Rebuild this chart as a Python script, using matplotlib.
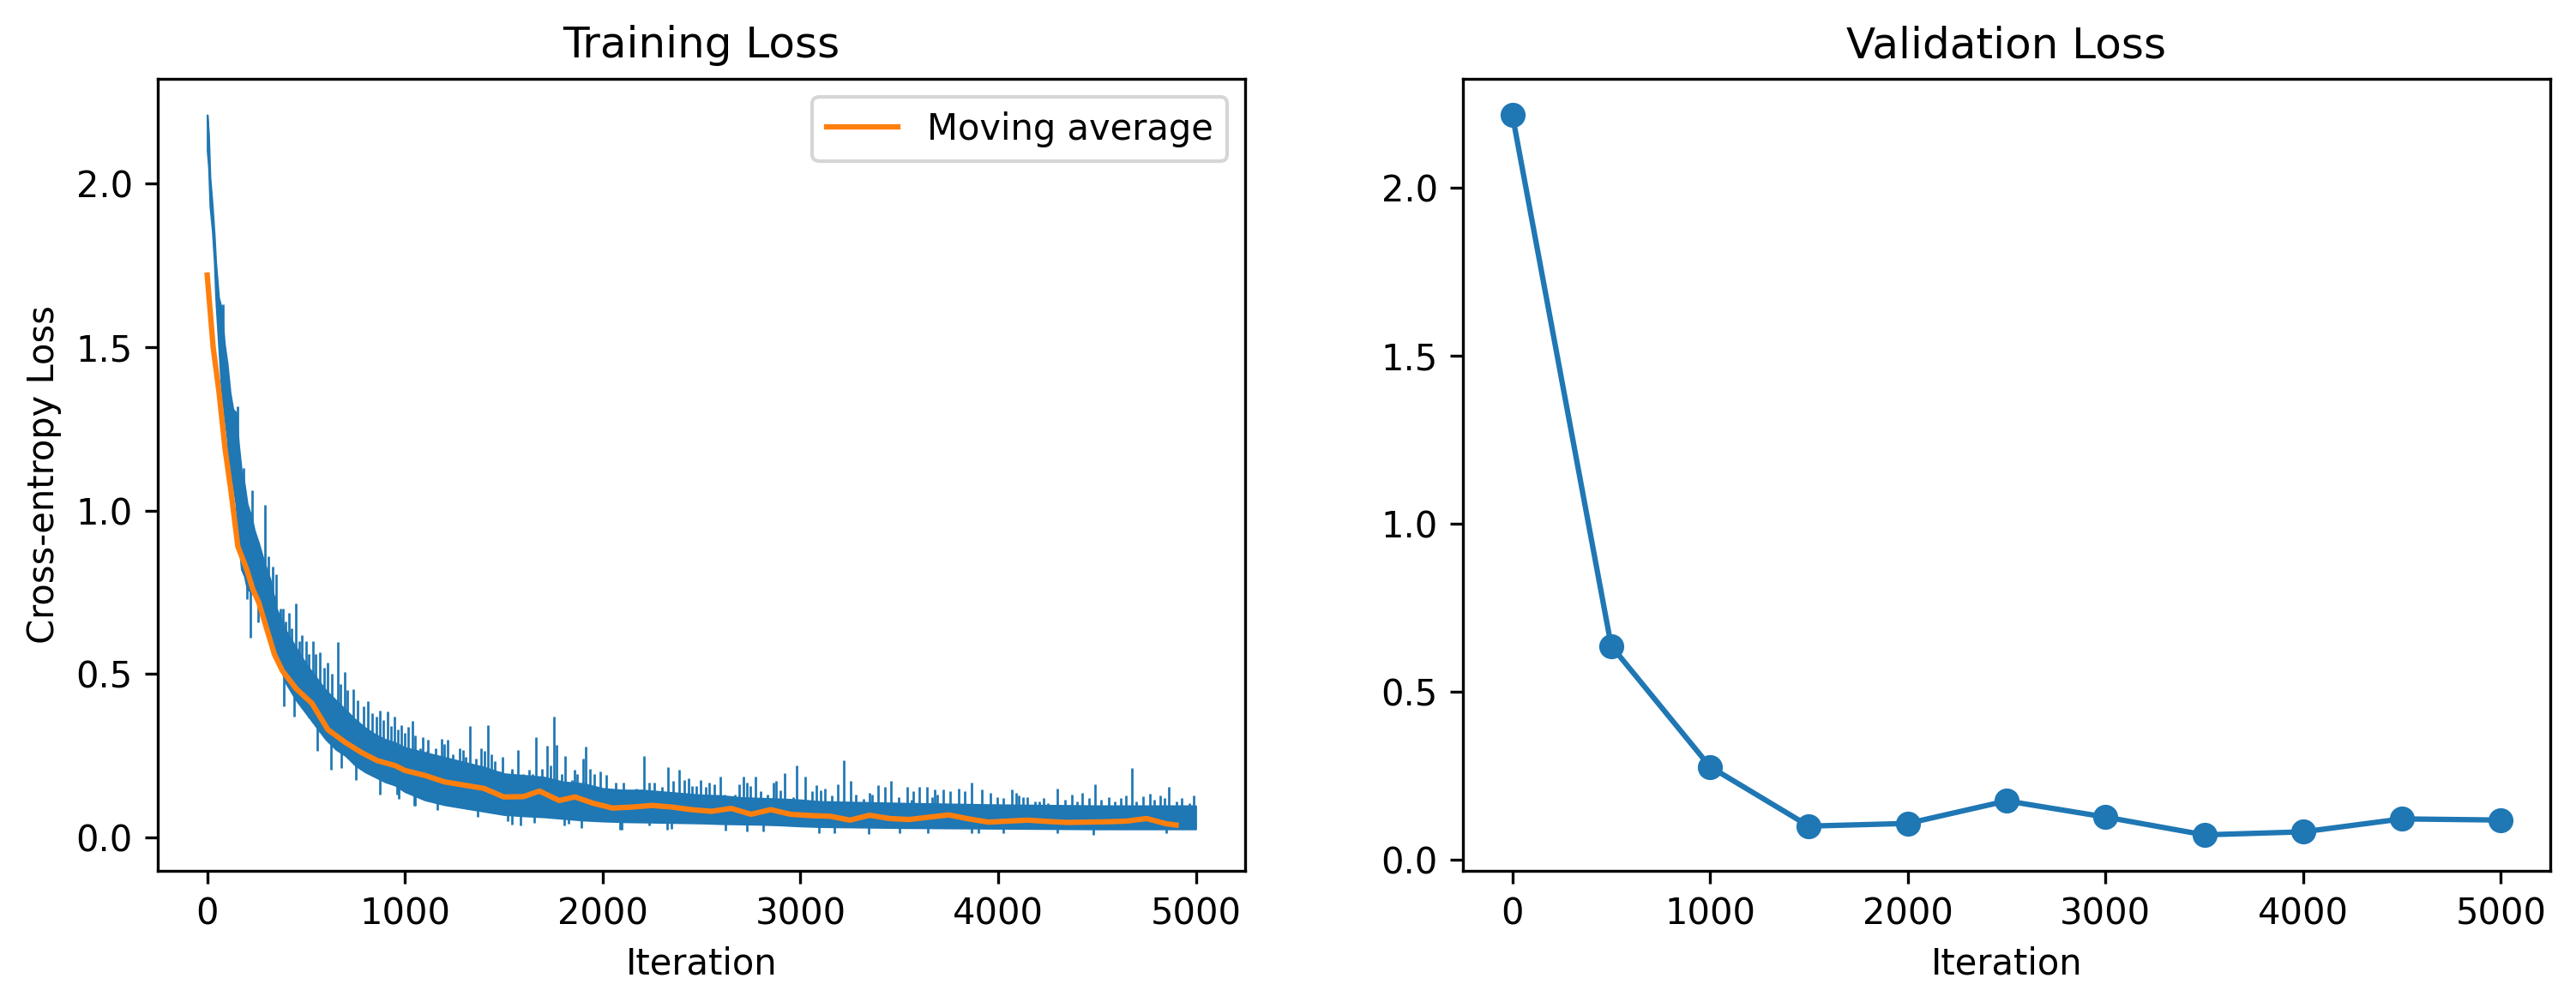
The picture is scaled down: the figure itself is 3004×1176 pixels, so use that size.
import numpy as np
import matplotlib
matplotlib.use("Agg")
import matplotlib.pyplot as plt

# ---------------- data ----------------
# Training loss: solid core of the raw per-iteration curve (lower / upper edge)
band_iter = [0, 7, 14, 26, 36, 43, 58, 72, 87, 101, 116, 130, 145, 159, 173, 188,
             202, 224, 238, 260, 289, 318, 350, 400, 450, 500, 550, 600, 650, 700,
             750, 800, 850, 900, 950, 1000, 1100, 1200, 1300, 1400, 1500, 1600,
             1700, 1800, 1900, 2000, 2100, 2200, 2300, 2400, 2500, 2600, 2700,
             2800, 2900, 3000, 3100, 3500, 4000, 4500, 4999]
band_lo = [2.10, 2.05, 1.93, 1.855, 1.76, 1.65, 1.50, 1.37, 1.29, 1.22, 1.09, 1.08,
           1.02, 0.91, 0.82, 0.80, 0.76, 0.75, 0.74, 0.71, 0.66, 0.63, 0.55, 0.47,
           0.42, 0.38, 0.34, 0.30, 0.27, 0.25, 0.22, 0.20, 0.185, 0.17, 0.16, 0.14,
           0.115, 0.10, 0.09, 0.08, 0.07, 0.066, 0.063, 0.058, 0.053, 0.05, 0.048,
           0.047, 0.046, 0.045, 0.044, 0.042, 0.041, 0.04, 0.038, 0.035, 0.033,
           0.030, 0.028, 0.026, 0.026]
band_hi = [2.21, 2.15, 2.02, 1.93, 1.84, 1.76, 1.65, 1.62, 1.51, 1.45, 1.36, 1.31,
           1.30, 1.20, 1.12, 1.08, 1.02, 0.98, 0.94, 0.90, 0.84, 0.79, 0.70, 0.63,
           0.58, 0.53, 0.49, 0.45, 0.42, 0.39, 0.36, 0.335, 0.315, 0.30, 0.29, 0.275,
           0.26, 0.245, 0.23, 0.215, 0.195, 0.19, 0.185, 0.17, 0.165, 0.15, 0.145,
           0.145, 0.14, 0.135, 0.13, 0.128, 0.122, 0.12, 0.118, 0.115, 0.11, 0.105,
           0.10, 0.097, 0.097]

# Upward spikes of the raw curve (iteration, loss)
spike_up_iter = [79, 152, 184, 227, 260, 291, 300, 311, 329, 340, 347, 370, 383,
                 395, 412, 425, 448, 465, 480, 499, 515, 535, 550, 571, 590, 607,
                 630, 661, 675, 694, 710, 737, 760, 790, 814, 835, 855, 875, 890,
                 911, 930, 947, 965, 983, 998, 1016, 1037, 1051, 1077, 1092, 1113,
                 1116, 1135, 1157, 1185, 1200, 1214, 1243, 1275, 1294, 1308, 1330,
                 1359, 1383, 1402, 1420, 1439, 1456, 1482, 1493, 1518, 1540, 1543,
                 1573, 1598, 1626, 1644, 1662, 1692, 1720, 1735, 1755, 1768, 1793,
                 1811, 1843, 1857, 1872, 1901, 1915, 1937, 1959, 1988, 2016, 2034,
                 2067, 2103, 2132, 2168, 2207, 2234, 2262, 2299, 2331, 2356, 2388,
                 2414, 2433, 2453, 2472, 2493, 2520, 2540, 2563, 2594, 2617, 2638,
                 2667, 2689, 2710, 2728, 2747, 2771, 2797, 2833, 2862, 2877, 2899,
                 2920, 2964, 2982, 3025, 3058, 3079, 3101, 3123, 3159, 3190, 3221,
                 3253, 3282, 3318, 3351, 3361, 3393, 3426, 3459, 3498, 3539, 3563,
                 3571, 3600, 3640, 3665, 3679, 3694, 3722, 3759, 3799, 3831, 3867,
                 3917, 3961, 3997, 4026, 4069, 4091, 4105, 4127, 4149, 4185, 4210,
                 4228, 4250, 4300, 4340, 4373, 4400, 4423, 4460, 4491, 4520, 4560,
                 4590, 4620, 4647, 4676, 4700, 4731, 4766, 4790, 4818, 4840, 4864,
                 4900, 4930, 4965, 4987]
spike_up_val = [1.63, 1.32, 1.13, 1.062, 0.88, 1.017, 0.80, 0.859, 0.829, 0.74,
                0.806, 0.70, 0.701, 0.66, 0.686, 0.64, 0.717, 0.60, 0.62, 0.60,
                0.56, 0.60, 0.56, 0.566, 0.52, 0.536, 0.50, 0.597, 0.47, 0.507,
                0.45, 0.454, 0.42, 0.40, 0.416, 0.38, 0.37, 0.389, 0.36, 0.386,
                0.34, 0.371, 0.33, 0.343, 0.321, 0.338, 0.356, 0.312, 0.272, 0.307,
                0.264, 0.299, 0.246, 0.272, 0.301, 0.285, 0.299, 0.255, 0.273,
                0.268, 0.246, 0.341, 0.242, 0.273, 0.264, 0.344, 0.255, 0.233,
                0.203, 0.246, 0.177, 0.202, 0.211, 0.268, 0.194, 0.207, 0.194,
                0.308, 0.211, 0.280, 0.220, 0.371, 0.283, 0.194, 0.250, 0.177,
                0.207, 0.194, 0.242, 0.277, 0.211, 0.194, 0.203, 0.192, 0.150,
                0.168, 0.167, 0.132, 0.150, 0.248, 0.168, 0.167, 0.155, 0.215,
                0.172, 0.207, 0.177, 0.181, 0.158, 0.158, 0.176, 0.154, 0.167,
                0.163, 0.185, 0.132, 0.124, 0.132, 0.163, 0.187, 0.167, 0.158,
                0.187, 0.141, 0.132, 0.167, 0.172, 0.145, 0.198, 0.124, 0.220,
                0.185, 0.141, 0.160, 0.145, 0.150, 0.128, 0.163, 0.237, 0.172,
                0.132, 0.119, 0.137, 0.132, 0.159, 0.154, 0.172, 0.124, 0.154,
                0.115, 0.141, 0.154, 0.154, 0.124, 0.146, 0.132, 0.146, 0.141,
                0.150, 0.141, 0.167, 0.146, 0.137, 0.124, 0.120, 0.146, 0.137,
                0.128, 0.124, 0.124, 0.111, 0.110, 0.120, 0.105, 0.150, 0.115,
                0.130, 0.110, 0.137, 0.120, 0.163, 0.115, 0.124, 0.110, 0.120,
                0.128, 0.213, 0.110, 0.126, 0.134, 0.115, 0.128, 0.120, 0.154,
                0.110, 0.120, 0.106, 0.128]

# Downward spikes of the raw curve (iteration, loss)
spike_dn_iter = [202, 217, 258, 386, 441, 557, 626, 680, 752, 875, 961, 969, 1048,
                 1051, 1164, 1366, 1518, 1540, 1583, 1655, 1807, 1829, 1894, 2089,
                 2096, 2234, 2327, 2349, 2623, 2731, 2812, 3092, 3173, 3347, 3500,
                 3643, 3867, 3900, 4026, 4300, 4480, 4850]
spike_dn_val = [0.73, 0.61, 0.657, 0.40, 0.37, 0.266, 0.206, 0.213, 0.176, 0.131,
                0.131, 0.119, 0.097, 0.097, 0.084, 0.062, 0.049, 0.040, 0.038,
                0.045, 0.038, 0.041, 0.029, 0.023, 0.023, 0.036, 0.023, 0.027,
                0.020, 0.018, 0.018, 0.014, 0.014, 0.010, 0.014, 0.014, 0.014,
                0.014, 0.014, 0.012, 0.008, 0.012]

# Moving average of the training loss
ma_iter = [0, 30, 60, 90, 120, 155, 200, 230, 260, 300, 340, 380, 450, 530, 560,
           610, 700, 780, 860, 950, 1000, 1100, 1200, 1300, 1400, 1500, 1600, 1680,
           1780, 1860, 1950, 2050, 2150, 2250, 2350, 2450, 2550, 2650, 2750, 2850,
           2950, 3050, 3150, 3250, 3350, 3450, 3550, 3650, 3750, 3850, 3950, 4050,
           4150, 4250, 4350, 4450, 4550, 4650, 4750, 4850, 4900]
ma_val = [1.72, 1.50, 1.36, 1.19, 1.06, 0.89, 0.82, 0.76, 0.72, 0.64, 0.56, 0.51,
          0.455, 0.41, 0.38, 0.33, 0.29, 0.26, 0.235, 0.22, 0.205, 0.19, 0.17,
          0.16, 0.15, 0.124, 0.125, 0.142, 0.113, 0.124, 0.105, 0.090, 0.093,
          0.098, 0.093, 0.085, 0.080, 0.089, 0.071, 0.085, 0.071, 0.067, 0.065,
          0.053, 0.068, 0.058, 0.055, 0.062, 0.069, 0.057, 0.047, 0.050, 0.053,
          0.049, 0.046, 0.047, 0.048, 0.050, 0.058, 0.042, 0.038]

# Validation loss
val_iter = [0, 500, 1000, 1500, 2000, 2500, 3000, 3500, 4000, 4500, 5000]
val_loss = [2.216, 0.637, 0.2775, 0.101, 0.109, 0.176, 0.128, 0.075, 0.084,
            0.1225, 0.119]

# ---------------- figure ----------------
W, H = 3004, 1176
fig = plt.figure(figsize=(W / 300, H / 300), dpi=300)
ax1 = fig.add_axes([184 / W, 1 - 1016 / H, 1268 / W, 924 / H])
ax2 = fig.add_axes([1706 / W, 1 - 1016 / H, 1268 / W, 924 / H])

blue = "#1f77b4"
orange = "#ff7f0e"

bi = np.asarray(band_iter, float)
blo = np.asarray(band_lo)
bhi = np.asarray(band_hi)
ax1.fill_between(bi, blo, bhi, color=blue, linewidth=0.5, edgecolor=blue)
up_x = np.asarray(spike_up_iter, float)
ax1.vlines(up_x, np.interp(up_x, bi, blo), spike_up_val, color=blue, linewidth=0.65)
dn_x = np.asarray(spike_dn_iter, float)
ax1.vlines(dn_x, spike_dn_val, np.interp(dn_x, bi, bhi), color=blue, linewidth=0.65)
ax1.plot(ma_iter, ma_val, color=orange, linewidth=1.5, label="Moving average")
ax1.set_title("Training Loss")
ax1.set_xlabel("Iteration")
ax1.set_ylabel("Cross-entropy Loss")
ax1.legend(loc="upper right")

ax2.plot(val_iter, val_loss, marker="o", color=blue)
ax2.set_title("Validation Loss")
ax2.set_xlabel("Iteration")

for ax in (ax1, ax2):
    ax.set_xticks([0, 1000, 2000, 3000, 4000, 5000])
    ax.set_yticks([0.0, 0.5, 1.0, 1.5, 2.0])

fig.savefig("out.png", dpi=300)
